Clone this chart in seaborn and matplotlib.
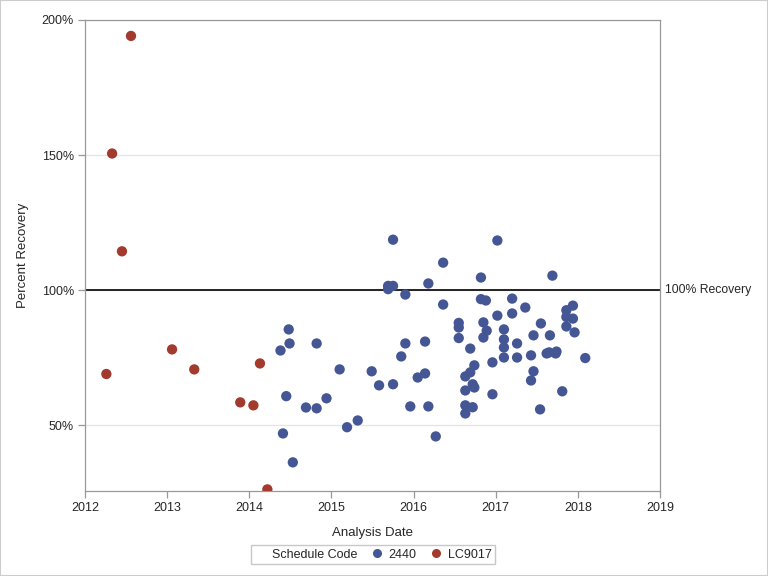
import numpy as np
import pandas as pd
import matplotlib
matplotlib.use('Agg')
import matplotlib.pyplot as plt
import seaborn as sns
from matplotlib.lines import Line2D

#### Data (decimal years, percent recovery)

lc_date = [2012.26, 2012.33, 2012.45, 2012.56, 2013.06, 2013.33, 2013.89, 2014.05, 2014.13, 2014.22]
lc_pct = [69.0, 150.6, 114.4, 194.1, 78.1, 70.7, 58.5, 57.4, 72.9, 26.3]

s2440_date = [2015.75, 2016.36, 2015.69, 2015.75, 2015.69, 2016.18, 2015.90, 2016.36,
              2014.48, 2014.49, 2014.38, 2014.82, 2015.90, 2016.14, 2015.85, 2015.10,
              2015.49, 2015.58, 2015.75, 2016.05, 2016.14, 2014.45, 2014.69, 2014.82,
              2014.94, 2015.96, 2016.18, 2015.19, 2015.32, 2014.41, 2016.27, 2014.53,
              2016.55, 2016.55, 2016.55, 2017.02, 2016.82, 2017.69, 2016.82, 2016.88,
              2017.20, 2017.36, 2017.02, 2017.20, 2017.94, 2017.86, 2017.86, 2017.94,
              2017.86, 2017.96, 2017.55, 2016.85, 2016.89, 2016.85, 2017.10, 2017.10,
              2017.10, 2017.10, 2017.26, 2017.26, 2017.46, 2017.66, 2017.43, 2016.69,
              2016.96, 2017.62, 2017.65, 2017.74, 2017.73, 2018.09, 2016.74, 2016.69,
              2016.63, 2017.46, 2017.43, 2016.72, 2016.74, 2016.63, 2016.96, 2017.81,
              2016.63, 2016.72, 2016.63, 2017.54]
s2440_pct = [118.7, 110.2, 101.6, 101.6, 100.4, 102.5, 98.4, 94.7,
             85.5, 80.3, 77.7, 80.3, 80.3, 81.0, 75.5, 70.7,
             70.0, 64.8, 65.2, 67.7, 69.2, 60.8, 56.6, 56.3,
             60.0, 57.0, 57.0, 49.3, 51.8, 47.0, 45.9, 36.3,
             87.9, 86.2, 82.3, 118.4, 104.7, 105.4, 96.7, 96.2,
             96.9, 93.6, 90.6, 91.4, 94.3, 92.6, 90.1, 89.5,
             86.6, 84.4, 87.7, 88.1, 85.0, 82.5, 85.5, 81.8,
             78.8, 75.1, 80.3, 75.1, 83.3, 83.3, 75.9, 78.4,
             73.3, 76.6, 77.0, 77.3, 76.6, 74.9, 72.2, 69.6,
             68.1, 70.0, 66.6, 65.2, 64.0, 62.9, 61.5, 62.6,
             57.4, 56.7, 54.4, 55.9]

codes = ['2440', 'LC9017']
colors = {'2440': '#445694', 'LC9017': '#A23A2E'}

df = pd.concat([
    pd.DataFrame({'date': s2440_date, 'pct': s2440_pct, 'code': '2440'}),
    pd.DataFrame({'date': lc_date, 'pct': lc_pct, 'code': 'LC9017'}),
])

#### Graphic

sns.set_style('white')
plt.rcParams['font.family'] = ['Liberation Sans', 'DejaVu Sans']

fig = plt.figure(figsize=(7.68, 5.76), dpi=100)
ax = fig.add_axes([85/768, 1-491/576, 575/768, 471/576])

ax.axhline(100, color='black', lw=1.2, zorder=1)
sns.scatterplot(data=df, x='date', y='pct', hue='code', hue_order=codes,
                palette=colors, s=55, edgecolor='none', legend=False, ax=ax, zorder=3)

ax.set_xlim(2012, 2019)
ax.set_ylim(25.7, 200)
ax.set_xticks(range(2012, 2020))
ax.set_yticks([50, 100, 150, 200])
ax.set_yticklabels(['50%', '100%', '150%', '200%'])
ax.yaxis.grid(True, color='#e4e4e4', lw=0.9)
ax.set_axisbelow(True)
ax.tick_params(axis='both', direction='out', length=5, width=0.9, color='#999999',
               labelsize=9, pad=3, left=True, bottom=True)
for sp in ax.spines.values():
    sp.set_color('#999999')
    sp.set_linewidth(0.9)

ax.set_xlabel('Analysis Date', fontsize=9.5, labelpad=9)
ax.set_ylabel('Percent Recovery', fontsize=9.5, labelpad=9)
ax.text(1.008, 100, '100% Recovery', transform=ax.get_yaxis_transform(),
        va='center', ha='left', fontsize=8.8)

handles = [Line2D([], [], ls='none', marker=None)]
labels = ['Schedule Code']
for c in codes:
    handles.append(Line2D([], [], ls='none', marker='o', markersize=6.5,
                          markerfacecolor=colors[c], markeredgecolor='none'))
    labels.append(c)
fig.legend(handles, labels, loc='center', bbox_to_anchor=(373/768, 1-554.5/576), ncol=3,
           frameon=True, fancybox=False, edgecolor='#bbbbbb', fontsize=9,
           handlelength=0.9, handletextpad=0.5, columnspacing=1.1,
           borderpad=0.3, borderaxespad=0)

fig.patches.append(plt.Rectangle((0, 0), 1, 1, transform=fig.transFigure, fill=False,
                                 edgecolor='#cccccc', lw=1.5))

fig.savefig('out.png', dpi=100)
